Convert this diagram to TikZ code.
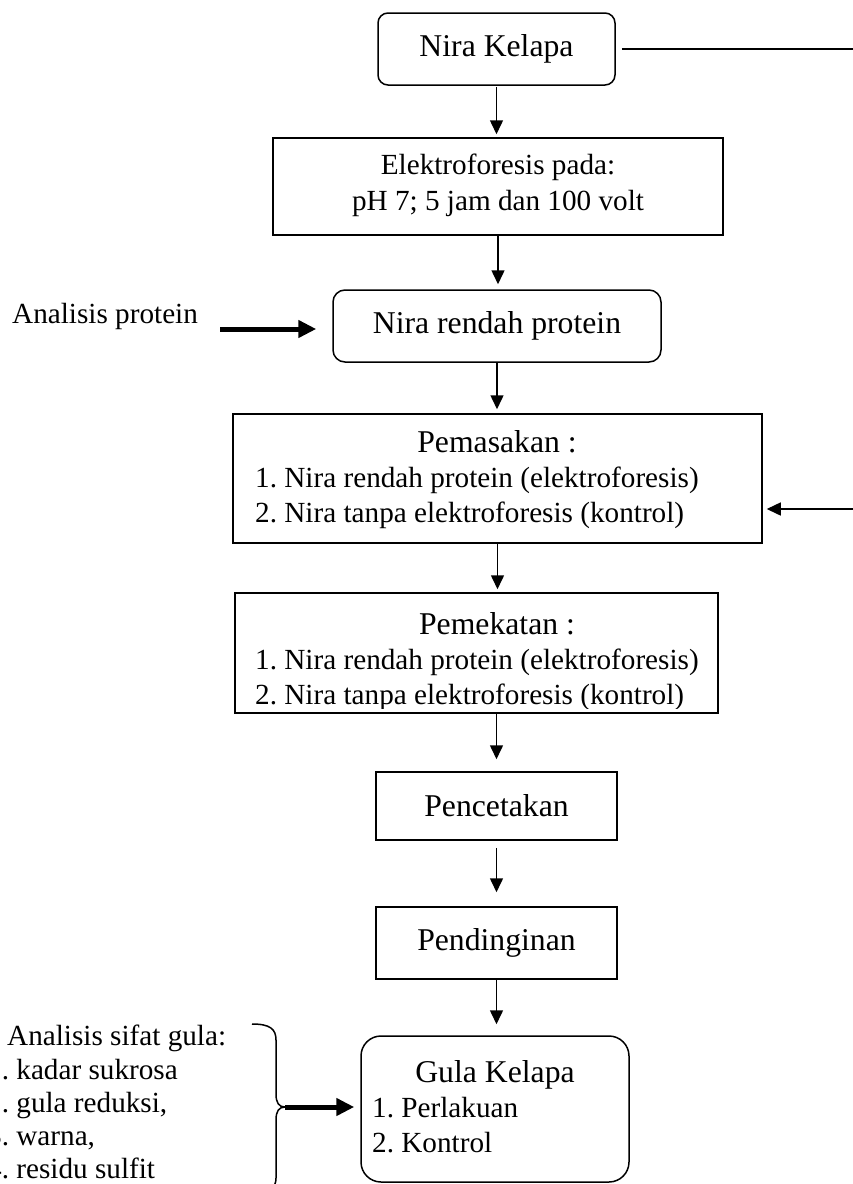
\documentclass[tikz,border=0pt]{standalone}
\usepackage{fontspec}
\setmainfont{Liberation Serif}
\usetikzlibrary{arrows.meta}
\begin{document}
\begin{tikzpicture}[x=1pt,y=-1pt,
  every node/.style={font=\fontsize{29.2}{35}\selectfont, inner sep=0pt},
  big/.style={font=\fontsize{31.7}{38}\selectfont},
  sbox/.style={draw, line width=1.5pt},
  rbox/.style={draw, line width=1.5pt, rounded corners=10pt},
  plainline/.style={line width=1.5pt},
  arr/.style={-{Triangle[length=14pt,width=13pt]}, line width=1.5pt},
  thickarr/.style={-{Triangle[length=18pt,width=17pt]}, line width=5pt}]
\useasboundingbox (0,0) rectangle (853,1184);

% Nira Kelapa
\node[rbox, big, minimum width=237pt, minimum height=72pt] (nk) at (496.5,49) {Nira Kelapa};
\coordinate (rout) at (853,50);
\draw[plainline] ([xshift=6pt]nk.east) -- (nk.east -| rout);

% Elektroforesis
\node[sbox, minimum width=450pt, minimum height=97pt] (el) at (498,186.5) {};
\node[anchor=base] (el1) at (498,174) {Elektroforesis pada:};
\node[anchor=base] (el2) at (498,210) {pH 7; 5 jam dan 100 volt};

% Nira rendah protein
\node[rbox, big, rounded corners=12pt, minimum width=328pt, minimum height=72pt] (nr) at (497,326) {Nira rendah protein};
\node[anchor=base west] (ap) at (12,323) {Analisis protein};
\coordinate (a1) at (220,329);
\draw[thickarr, shorten >=16pt] (a1) -- (a1 -| nr.west);

% Pemasakan
\node[sbox, minimum width=529pt, minimum height=129pt] (ps) at (497.5,478.5) {};
\node[big, anchor=base] (ps0) at (497,452) {Pemasakan :};
\node[anchor=base west] (ps1) at (255,487) {1.\ Nira rendah protein (elektroforesis)};
\node[anchor=base west] (ps2) at (255,522) {2.\ Nira tanpa elektroforesis (kontrol)};
\coordinate (rin) at (853,509);
\draw[arr, shorten >=4pt] (rin) -- (rin -| ps.east);

% Pemekatan
\node[sbox, minimum width=483pt, minimum height=120pt] (pk) at (476.5,653) {};
\begin{scope}
\clip (235,593) rectangle (718,708.5);
\node[big, anchor=base] (pk0) at (497,634) {Pemekatan :};
\node[anchor=base west] (pk1) at (255,669) {1.\ Nira rendah protein (elektroforesis)};
\node[anchor=base west] (pk2) at (255,704) {2.\ Nira tanpa elektroforesis (kontrol)};
\end{scope}

% Pencetakan, Pendinginan
\node[sbox, big, minimum width=241pt, minimum height=68pt] (pc) at (496.5,806) {Pencetakan};
\node[sbox, big, minimum width=241pt, minimum height=72pt] (pd) at (496.5,943) {Pendinginan};

% Gula Kelapa
\node[rbox, rounded corners=20pt, minimum width=268pt, minimum height=146pt] (gk) at (495,1109) {};
\node[big, anchor=base] (gk0) at (495,1082) {Gula Kelapa};
\node[anchor=base west] (gk1) at (372,1117) {1.\ Perlakuan};
\node[anchor=base west] (gk2) at (372,1152) {2.\ Kontrol};

% vertical arrows
\draw[arr, shorten <=1pt, shorten >=3pt] (nk.south) -- (nk.south |- el.north);
\draw[arr, shorten >=5pt] (el.south) -- (el.south |- nr.north);
\draw[arr, shorten >=4pt] (nr.south) -- (nr.south |- ps.north);
\draw[arr, shorten >=3pt] (ps.south) -- (ps.south |- pk.north);
\draw[arr, shorten >=12pt] (pc.north |- pk.south) -- (pc.north);
\draw[arr, shorten <=7pt, shorten >=14pt] (pc.south) -- (pd.north);
\draw[arr, shorten >=11pt] (pd.south) -- (pd.south |- gk.north);

% Analisis sifat gula
\node[anchor=base west] (as0) at (7,1045) {Analisis sifat gula:};
\node[anchor=base west] (as1) at (-13,1079) {1.\ kadar sukrosa};
\node[anchor=base west] (as2) at (-13,1112) {2.\ gula reduksi,};
\node[anchor=base west] (as3) at (-13,1145) {3.\ warna,};
\node[anchor=base west] (as4) at (-13,1178) {4.\ residu sulfit};

% brace
\draw[plainline] (252,1024) .. controls (270,1024) and (276,1029) .. (276,1040) -- (276,1094)
  .. controls (276,1103) and (279,1107) .. (285,1107)
  .. controls (279,1107) and (276,1111) .. (276,1120) -- (276,1178)
  .. controls (276,1188) and (270,1192) .. (252,1192);
\coordinate (bm) at (285,1107);
\draw[thickarr, shorten >=6pt] (bm) -- (bm -| gk.west);
\end{tikzpicture}
\end{document}
